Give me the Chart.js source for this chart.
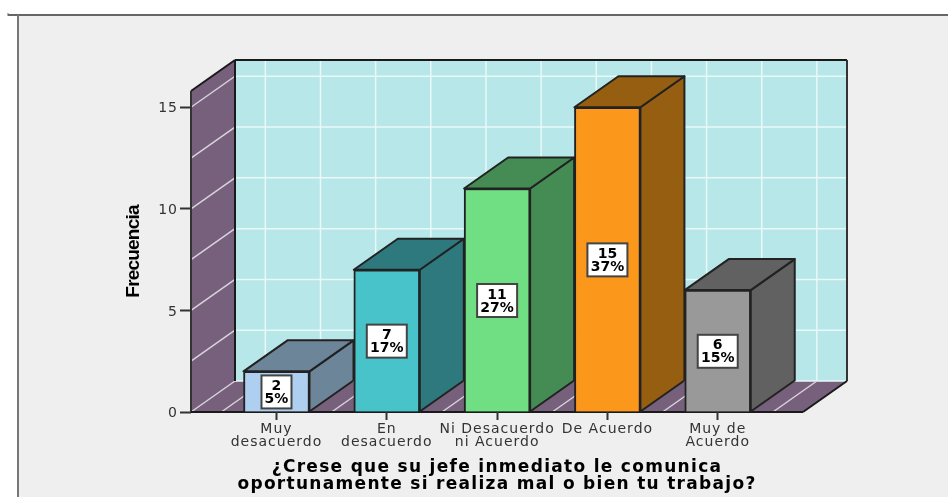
<!DOCTYPE html>
<html>
<head>
<meta charset="utf-8">
<style>
html, body { margin: 0; padding: 0; background: #fff; }
canvas { display: block; }
</style>
<script src="https://cdn.jsdelivr.net/npm/chart.js@4/dist/chart.umd.min.js"></script>
</head>
<body>
<canvas id="grafico" width="948" height="497"></canvas>
<script>
const categories = [['Muy', 'desacuerdo'], ['En', 'desacuerdo'], ['Ni Desacuerdo', 'ni Acuerdo'], ['De Acuerdo'], ['Muy de', 'Acuerdo']]
const frecuencia = [2, 7, 11, 15, 6]
const porcentaje = ['5%', '17%', '27%', '37%', '15%']
const yTicks = [0, 5, 10, 15]
const frontColors = ['#aecff0', '#48c3c9', '#70de82', '#fb981c', '#999999']
const sideColors = ['#6d8598', '#2e797e', '#458c54', '#965e10', '#616161']

// profundidad del efecto 3D
const depthX = 44
const depthY = 31

function face(ctx, points, fill, stroke, width) {
    ctx.beginPath()
    points.forEach((p, i) => i ? ctx.lineTo(p[0], p[1]) : ctx.moveTo(p[0], p[1]))
    ctx.closePath()
    ctx.fillStyle = fill
    ctx.fill()
    if (stroke) {
        ctx.strokeStyle = stroke
        ctx.lineWidth = width
        ctx.stroke()
    }
}

function line(ctx, x1, y1, x2, y2, color, width) {
    ctx.beginPath()
    ctx.moveTo(x1, y1)
    ctx.lineTo(x2, y2)
    ctx.strokeStyle = color
    ctx.lineWidth = width
    ctx.stroke()
}

// el texto del original es mas ancho que las fuentes instaladas
function spaced(scale, method, px, shiftY = 0) {
    const original = scale[method]
    scale[method] = function (...args) {
        scale.ctx.save()
        scale.ctx.translate(0, shiftY)
        scale.ctx.letterSpacing = px
        original.apply(scale, args)
        scale.ctx.letterSpacing = '0px'
        scale.ctx.restore()
    }
}

const walls = {
    id: 'walls',
    afterInit(chart) {
        chart.$spaced = false
    },
    afterLayout(chart) {
        if (chart.$spaced) return
        chart.$spaced = true
        const { x, y } = chart.scales
        spaced(x, 'drawTitle', '1.3px')
        spaced(x, 'drawLabels', '1px')
        spaced(y, 'drawLabels', '1px', 1.5)
        spaced(y, 'drawTitle', '-0.8px')
    },
    beforeDraw(chart) {
        const ctx = chart.ctx
        const { left, right, top, bottom } = chart.chartArea
        const { x, y } = chart.scales
        ctx.save()

        // panel y marco
        ctx.fillStyle = '#efefef'
        ctx.fillRect(18, 15, chart.width - 18, chart.height - 15)
        line(ctx, 8, 15, chart.width, 15, '#666666', 2)
        line(ctx, 8, 13, 8, 16, '#666666', 1)
        line(ctx, 18, 15, 18, chart.height, '#777777', 2)

        // pared de fondo, pared izquierda y piso
        face(ctx, [[left + depthX, top - depthY], [right + depthX, top - depthY], [right + depthX, bottom - depthY], [left + depthX, bottom - depthY]], '#b7e7e8')
        face(ctx, [[left, top], [left + depthX, top - depthY], [left + depthX, bottom - depthY], [left, bottom]], '#76607c')
        face(ctx, [[left, bottom], [left + depthX, bottom - depthY], [right + depthX, bottom - depthY], [right, bottom]], '#76607c')

        // rejilla
        for (let v = 0; v <= y.max; v += 2.5) {
            const py = y.getPixelForValue(v)
            line(ctx, left, py, left + depthX, py - depthY, '#d9d3dc', 1.5)
            line(ctx, left + depthX, py - depthY, right + depthX, py - depthY, '#eaf8f8', 1.5)
        }
        for (let v = -0.5; v <= 4.5; v += 0.5) {
            const px = x.getPixelForValue(v)
            line(ctx, px + depthX, top - depthY, px + depthX, bottom - depthY, '#eaf8f8', 1.5)
            line(ctx, px, bottom, px + depthX, bottom - depthY, '#d9d3dc', 1.5)
        }

        // bordes
        ctx.lineJoin = 'round'
        line(ctx, left + depthX, top - depthY, right + depthX, top - depthY, '#1a1a1a', 2)
        line(ctx, right + depthX, top - depthY, right + depthX, bottom - depthY, '#333333', 2)
        line(ctx, left + depthX, top - depthY, left + depthX, bottom - depthY, '#1a1a1a', 2)
        line(ctx, left, top, left + depthX, top - depthY, '#1a1a1a', 2)
        line(ctx, left, top, left, bottom, '#333333', 2)
        line(ctx, left, bottom, right, bottom, '#1a1a1a', 2)
        line(ctx, right, bottom, right + depthX, bottom - depthY, '#1a1a1a', 2)
        ctx.restore()
    },
    beforeDatasetsDraw(chart) {
        // caras laterales y superiores de cada barra
        const ctx = chart.ctx
        const bars = chart.getDatasetMeta(0).data
        ctx.save()
        ctx.lineJoin = 'round'
        bars.forEach((bar, i) => {
            const l = bar.x - bar.width / 2
            const r = bar.x + bar.width / 2
            const t = bar.y
            const b = bar.base
            face(ctx, [[r, t], [r + depthX, t - depthY], [r + depthX, b - depthY], [r, b]], sideColors[i], '#222222', 2)
            face(ctx, [[l, t], [l + depthX, t - depthY], [r + depthX, t - depthY], [r, t]], sideColors[i], '#222222', 2)
        })
        ctx.restore()
    },
    afterDatasetsDraw(chart) {
        // etiquetas con frecuencia y porcentaje
        const ctx = chart.ctx
        const bars = chart.getDatasetMeta(0).data
        ctx.save()
        ctx.font = 'bold 14px "DejaVu Sans"'
        ctx.textAlign = 'center'
        ctx.textBaseline = 'middle'
        bars.forEach((bar, i) => {
            const mid = (bar.y + bar.base) / 2
            const w = Math.ceil(ctx.measureText(porcentaje[i]).width) + 6
            ctx.fillStyle = '#ffffff'
            ctx.fillRect(bar.x - w / 2, mid - 16, w, 33)
            ctx.strokeStyle = '#444444'
            ctx.lineWidth = 2
            ctx.strokeRect(bar.x - w / 2, mid - 16, w, 33)
            ctx.fillStyle = '#000000'
            ctx.fillText(frecuencia[i], bar.x, mid - 5)
            ctx.fillText(porcentaje[i], bar.x, mid + 8)
        })
        ctx.restore()
    }
}

new Chart(document.getElementById('grafico'), {
    type: 'bar',
    data: {
        datasets: [{
            data: frecuencia.map((v, i) => ({ x: i, y: v })),
            backgroundColor: frontColors,
            borderColor: '#222222',
            borderWidth: 2,
            barThickness: 66
        }]
    },
    plugins: [walls],
    options: {
        responsive: false,
        animation: false,
        layout: { padding: { top: 91, right: 145, left: 0, bottom: 0 } },
        plugins: { legend: { display: false }, tooltip: { enabled: false } },
        scales: {
            x: {
                type: 'linear',
                offset: false,
                min: -0.775,
                max: 4.773,
                afterBuildTicks(scale) {
                    scale.ticks = categories.map((c, i) => ({ value: i }))
                },
                afterFit(scale) { scale.height = 85 },
                grid: { offset: false, drawOnChartArea: false, tickLength: 8, tickColor: '#333333', tickWidth: 2 },
                border: { display: false },
                ticks: {
                    autoSkip: false,
                    maxRotation: 0,
                    padding: 3,
                    color: '#333333',
                    font: { family: '"DejaVu Sans"', size: 14, lineHeight: 0.93 },
                    callback: v => categories[v]
                },
                title: {
                    display: true,
                    text: ['¿Crese que su jefe inmediato le comunica', 'oportunamente si realiza mal o bien tu trabajo?'],
                    color: '#000000',
                    font: { family: '"DejaVu Sans"', size: 17, weight: 'bold', lineHeight: 0.98 },
                    padding: { top: 0, bottom: 4 }
                }
            },
            y: {
                min: 0,
                max: 15.8,
                afterBuildTicks(scale) {
                    scale.ticks = yTicks.map(v => ({ value: v }))
                },
                afterFit(scale) { scale.width = 191 },
                grid: { drawOnChartArea: false, tickLength: 11, tickColor: '#333333', tickWidth: 2 },
                border: { display: false },
                ticks: {
                    padding: 2,
                    color: '#333333',
                    font: { family: '"DejaVu Sans"', size: 14 }
                },
                title: {
                    display: true,
                    text: 'Frecuencia',
                    color: '#000000',
                    font: { family: '"Liberation Sans"', size: 19, weight: 'bold', lineHeight: 1 },
                    padding: { top: 124, bottom: 0 }
                }
            }
        }
    }
})
</script>
</body>
</html>
